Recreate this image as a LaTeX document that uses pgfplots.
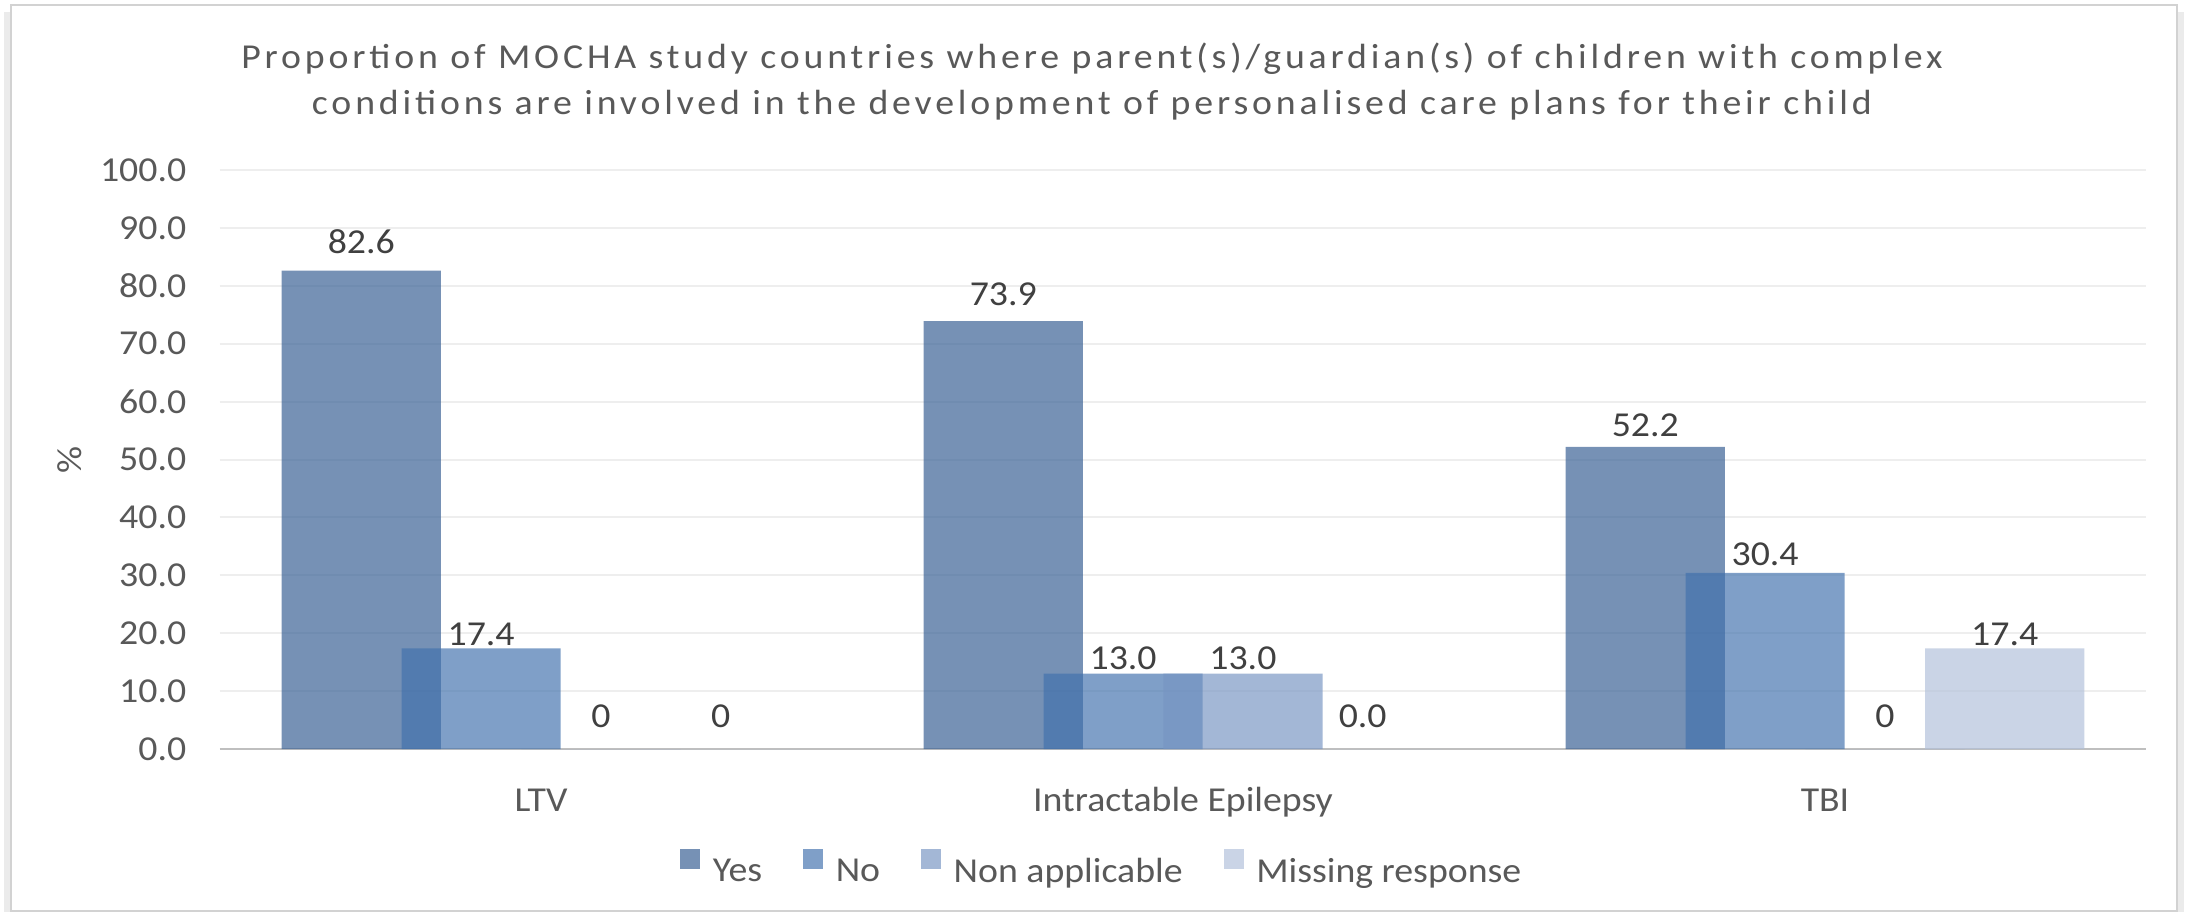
\documentclass[border=0pt]{standalone}
\usepackage{fontspec}
\setmainfont{Carlito}[FakeStretch=1.08]
\newfontfamily\titlefont{Carlito}[FakeStretch=1.08, LetterSpace=11]
\usepackage{pgfplots}
\usepackage{pgfplotstable}
\pgfplotsset{compat=1.18}
\definecolor{cyes}{RGB}{51,92,146}
\definecolor{cno}{RGB}{65,113,173}
\definecolor{cna}{RGB}{119,149,195}
\definecolor{cmis}{RGB}{177,192,218}
\definecolor{ctick}{RGB}{89,89,89}
\definecolor{clab}{RGB}{64,64,64}
\definecolor{cgrid}{RGB}{238,238,238}
\definecolor{caxis}{RGB}{191,191,191}
\definecolor{cframe}{RGB}{210,210,210}
\newcommand\cf{\fontsize{17.5pt}{21pt}\selectfont}

\pgfplotstableread{
x y lab off
0 82.6 82.6 8.3
1 73.9 73.9 7.5
2 52.2 52.2 5.0
}\tyes
\pgfplotstableread{
x y lab off
0 17.4 17.4 1.0
1 13.0 13.0 1.8
2 30.4 30.4 3.6
}\tno
\pgfplotstableread{
x y lab off
0 0 0 10.5
1 13.0 13.0 1.8
2 0 0 10.5
}\tna
\pgfplotstableread{
x y lab off
0 0 0 10.5
1 0.0 0.0 10.5
2 17.4 17.4 1.0
}\tmis

\begin{document}
\begin{tikzpicture}
\useasboundingbox (0,0) rectangle (1095pt,456pt);
\fill[white] (0,0) rectangle (1095pt,456pt);
\draw[black!8, line width=3pt] (3.5pt,0) -- (3.5pt,450pt);
\draw[black!8, line width=3pt] (1090.5pt,0) -- (1090.5pt,450pt);
\draw[cframe, line width=1pt] (5.5pt,0.5pt) rectangle (1088.5pt,453.5pt);
\node[anchor=base, text=ctick, font=\titlefont\cf, inner sep=0pt] at (546pt,421.85pt)
  {Proportion of MOCHA study countries where parent(s)/guardian(s) of children with complex};
\node[anchor=base, text=ctick, font=\titlefont\cf, inner sep=0pt] at (546pt,398.5pt)
  {conditions are involved in the development of personalised care plans for their child};
\begin{axis}[
  at={(110pt,81.5pt)}, anchor=south west,
  scale only axis, width=963pt, height=289.5pt,
  xmin=-0.5, xmax=2.5, ymin=0, ymax=100,
  xtick={0,1,2}, xticklabels={LTV,Intractable Epilepsy,TBI},
  ytick={0,10,...,100},
  /pgf/number format/assume math mode=true,
  yticklabel style={/pgf/number format/fixed, /pgf/number format/fixed zerofill, /pgf/number format/precision=1,
    anchor=east, inner sep=0pt, xshift=-16.7pt},
  xticklabel style={anchor=base, inner sep=0pt, yshift=-31pt},
  tick label style={font=\cf, text=ctick},
  major tick length=0pt,
  axis x line*=bottom, axis y line*=left,
  y axis line style={draw=none},
  x axis line style={draw=caxis, line width=1.2pt, -},
  ymajorgrids, grid style={draw=cgrid, line width=1pt},
  ylabel={\%},
  ylabel style={at={(axis description cs:-0.0781,0.5)}, anchor=center, font=\cf, text=ctick},
  ybar, bar width=79.6pt,
  point meta=explicit symbolic,
  nodes near coords,
  visualization depends on={\thisrow{off}\as\myoff},
  nodes near coords style={font=\cf, text=clab, text opacity=1, anchor=south, inner sep=0pt, yshift=\myoff pt},
  legend columns=4,
  legend style={at={(0.4573,-0.2038)}, anchor=center, draw=none, fill=none, font=\cf, text=ctick,
    inner sep=0pt, outer sep=0pt, nodes={inner sep=0pt, text opacity=1},
    /tikz/every odd column/.append style={column sep=6.3pt},
    /tikz/every even column/.append style={column sep=20.5pt}},
  legend image code/.code={\fill[#1] (0pt,1.65pt) rectangle (10pt,11.65pt);},
]
\addplot[fill=cyes, draw=none, fill opacity=0.67, bar shift=-89.85pt] table[x=x,y=y,meta=lab] {\tyes};
\addplot[fill=cno, draw=none, fill opacity=0.67, bar shift=-29.95pt] table[x=x,y=y,meta=lab] {\tno};
\addplot[fill=cna, draw=none, fill opacity=0.67, bar shift=29.95pt] table[x=x,y=y,meta=lab] {\tna};
\addplot[fill=cmis, draw=none, fill opacity=0.67, bar shift=89.85pt] table[x=x,y=y,meta=lab] {\tmis};
\legend{Yes,No,Non applicable,Missing response}
\end{axis}
\end{tikzpicture}
\end{document}
